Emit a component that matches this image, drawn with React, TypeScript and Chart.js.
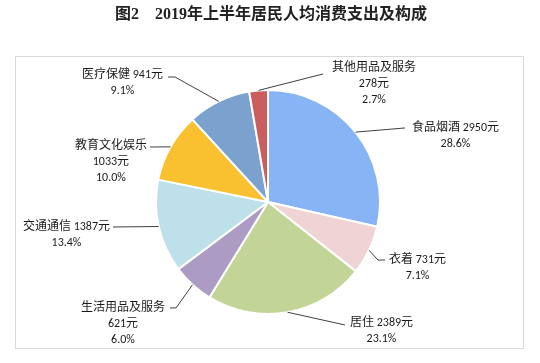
import React, { useEffect, useRef } from "react";
import { Chart, registerables } from "chart.js";

Chart.register(...registerables);

const TITLE = "图2　2019年上半年居民人均消费支出及构成";
const categories = ["食品烟酒", "衣着", "居住", "生活用品及服务", "交通通信", "教育文化娱乐", "医疗保健", "其他用品及服务"];
const values = [2950, 731, 2389, 621, 1387, 1033, 941, 278];
const unit = "元";
const colors = ["#86B4F4", "#F0D3D5", "#C2D596", "#AC9CC4", "#BDE0EA", "#F9C030", "#7BA2CF", "#CA5E5F"];

// label layout (relative to pie centre, in radius units): elbow (ex, ey), horizontal end hx, side, stacked name, text dy
const labelLayout = [
  { ex: 1.223, ey: -0.661, hx: 1.223, side: 1, stacked: false, dy: 0, gap: 7 },
  { ex: 0.982, ey: 0.518, hx: 1.045, side: 1, stacked: false, dy: 0, gap: 4 },
  { ex: 0.6875, ey: 1.098, hx: 0.6875, side: 1, stacked: false, dy: -2, gap: 5 },
  { ex: -0.821, ey: 0.946, hx: -0.875, side: -1, stacked: true, dy: 0, gap: 5 },
  { ex: -1.384, ey: 0.223, hx: -1.384, side: -1, stacked: false, dy: 0, gap: 3 },
  { ex: -1.054, ey: -0.491, hx: -1.054, side: -1, stacked: true, dy: -1, gap: 3 },
  { ex: -0.83, ey: -1.116, hx: -0.893, side: -1, stacked: false, dy: -2, gap: 5 },
  { ex: 0.491, ey: -1.143, hx: 0.491, side: 1, stacked: true, dy: -6, gap: 9 },
];

const LABEL_FONT = "12px Carlito, 'Noto Sans CJK SC', sans-serif";
const TITLE_FONT = "bold 16px 'Liberation Serif', 'Noto Sans CJK SC', serif";

const total = values.reduce((a, b) => a + b, 0);

const decorPlugin = {
  id: "decor",
  beforeDraw(chart: any) {
    const ctx = chart.ctx;
    ctx.save();
    ctx.fillStyle = "#ffffff";
    ctx.fillRect(0, 0, chart.width, chart.height);
    ctx.strokeStyle = "#D9D9D9";
    ctx.lineWidth = 1;
    ctx.strokeRect(15.5, 56.5, 508, 292);
    ctx.fillStyle = "#222222";
    ctx.font = TITLE_FONT;
    ctx.textAlign = "center";
    ctx.textBaseline = "middle";
    ctx.fillText(TITLE, 271, 15);
    ctx.restore();
  },
  afterDraw(chart: any) {
    const ctx = chart.ctx;
    const meta = chart.getDatasetMeta(0);
    ctx.save();
    meta.data.forEach((arc: any, i: number) => {
      const { x, y, startAngle, endAngle, outerRadius } = arc.getProps(
        ["x", "y", "startAngle", "endAngle", "outerRadius"],
        true
      );
      const lay = labelLayout[i];
      const mid = (startAngle + endAngle) / 2;
      const sx = x + Math.cos(mid) * outerRadius;
      const sy = y + Math.sin(mid) * outerRadius;
      const ex = x + lay.ex * outerRadius;
      const ey = y + lay.ey * outerRadius;
      const hx = x + lay.hx * outerRadius;
      ctx.strokeStyle = "#404040";
      ctx.lineWidth = 1;
      ctx.beginPath();
      ctx.moveTo(sx, sy);
      ctx.lineTo(ex, ey);
      ctx.lineTo(hx, ey);
      ctx.stroke();

      const pct = ((values[i] / total) * 100).toFixed(1) + "%";
      const lines = lay.stacked
        ? [categories[i], values[i] + unit, pct]
        : [categories[i] + " " + values[i] + unit, pct];
      ctx.font = LABEL_FONT;
      const w = Math.max(...lines.map((l) => ctx.measureText(l).width));
      const left = lay.side > 0 ? hx + lay.gap : hx - lay.gap - w;
      const cx = left + w / 2;
      ctx.fillStyle = "#1a1a1a";
      ctx.textAlign = "center";
      ctx.textBaseline = "middle";
      lines.forEach((l, k) => {
        ctx.fillText(l, cx, ey + lay.dy + k * 16);
      });
    });
    ctx.restore();
  },
};

export default function App() {
  const ref = useRef<HTMLCanvasElement | null>(null);
  useEffect(() => {
    if (!ref.current) return;
    const chart = new Chart(ref.current, {
      type: "pie",
      data: {
        labels: categories,
        datasets: [
          {
            data: values,
            backgroundColor: colors,
            borderColor: "#ffffff",
            borderWidth: 2,
          },
        ],
      },
      options: {
        animation: false,
        responsive: true,
        maintainAspectRatio: false,
        layout: { padding: { top: 89, bottom: 48, left: 155, right: 159 } },
        plugins: {
          legend: { display: false },
          tooltip: { enabled: false },
          title: { display: false },
        },
      },
      plugins: [decorPlugin],
    });
    return () => chart.destroy();
  }, []);
  return (
    <div style={{ position: "absolute", left: 0, top: 0, width: 540, height: 363 }}>
      <canvas ref={ref} />
    </div>
  );
}
